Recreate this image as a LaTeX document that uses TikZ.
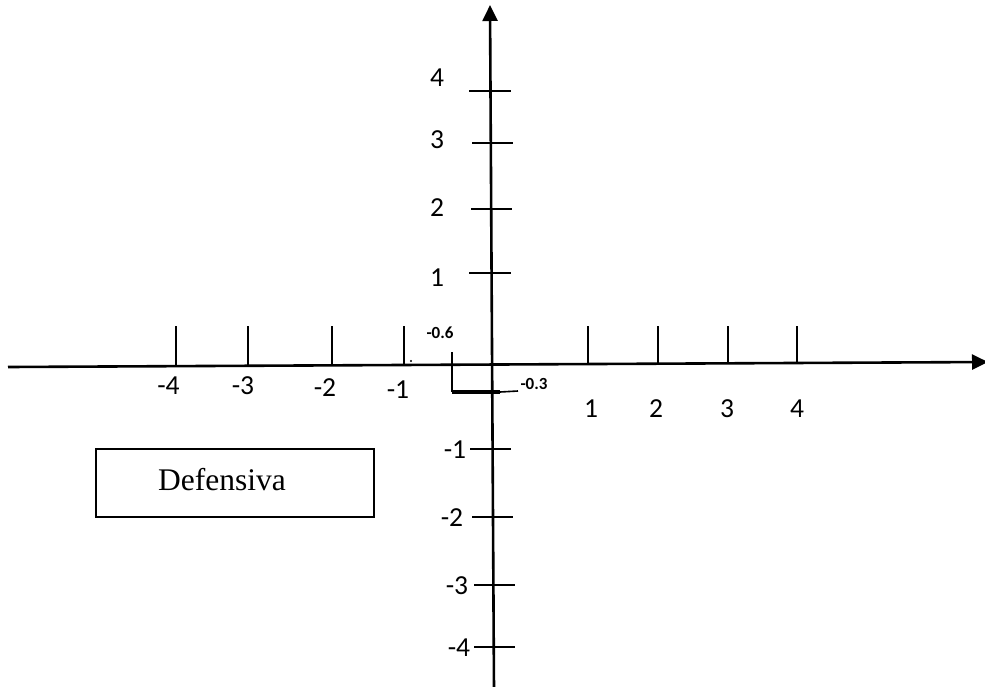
\documentclass[tikz,border=0pt]{standalone}
\usepackage{fontspec}
\setmainfont{Carlito}
\newfontfamily\boxfont{Liberation Serif}
\usetikzlibrary{arrows.meta}
\begin{document}
\begin{tikzpicture}[x=1pt,y=-1pt,
  axisline/.style={line width=2.6pt,-{Triangle[length=16pt,width=15pt]}},
  tickline/.style={line width=1.6pt},
  lbl/.style={font=\fontsize{27.5}{30}\selectfont,inner sep=0pt},
  smalllbl/.style={font=\bfseries\fontsize{17}{19}\selectfont,inner sep=0pt},
  boxstyle/.style={draw,line width=1.6pt,minimum width=278pt,minimum height=68pt,inner sep=0pt}]
\useasboundingbox (0,0) rectangle (985,686);
% axes
\coordinate (xs) at (8,367);
\coordinate (xe) at (988,362);
\coordinate (ys) at (494,690);
\coordinate (ye) at (490,5);
\draw[axisline] (xs) -- (xe);
\draw[axisline] (ys) -- (ye);
% x ticks
\foreach \x/\yb in {176/366,248/366,332/365,404/365,588/363,658/363,728/363,797/363}
  \draw[tickline] (\x,326) -- (\x,\yb);
% y ticks
\foreach \y/\a/\b in {91/469/511,143/472/513,209/471/512,273/469/511,449/470/511,517/472/513,585/474/515,647/474/515}
  \draw[tickline] (\a,\y) -- (\b,\y);
% x labels
\node[lbl] (xm4) at (168.5,386) {-4};
\node[lbl] (xm3) at (243,386) {-3};
\node[lbl] (xm2) at (325,388) {-2};
\node[lbl] (xm1) at (398,390) {-1};
\node[lbl] (xp1) at (591,409) {1};
\node[lbl] (xp2) at (656,409) {2};
\node[lbl] (xp3) at (727,409) {3};
\node[lbl] (xp4) at (797,409) {4};
% y labels
\node[lbl] (yp4) at (437,78) {4};
\node[lbl] (yp3) at (437,140) {3};
\node[lbl] (yp2) at (437,208) {2};
\node[lbl] (yp1) at (437,278) {1};
\node[lbl] (ym1) at (455,450) {-1};
\node[lbl] (ym2) at (452,518) {-2};
\node[lbl] (ym3) at (457,586) {-3};
\node[lbl] (ym4) at (459,648) {-4};
% bracket
\coordinate (b1) at (452,352);
\coordinate (b2) at (452,392);
\coordinate (b3) at (500,392);
\coordinate (b4) at (518,391);
\draw[line width=1.8pt] (b1) -- (b2);
\draw[line width=3.6pt] (b2) -- (b3);
\draw[line width=1.6pt] (b3) -- (b4);
\node[smalllbl] (l06) at (440,333) {-0.6};
\node[smalllbl] (l03) at (534,384) {-0.3};
\fill (411,361) circle (1.1pt);
% box
\node[boxstyle] (box) at (235,483) {};
\node[font=\boxfont\fontsize{31.5}{34}\selectfont,inner sep=0pt] (deftext) at (222,480) {Defensiva};
\end{tikzpicture}
\end{document}
